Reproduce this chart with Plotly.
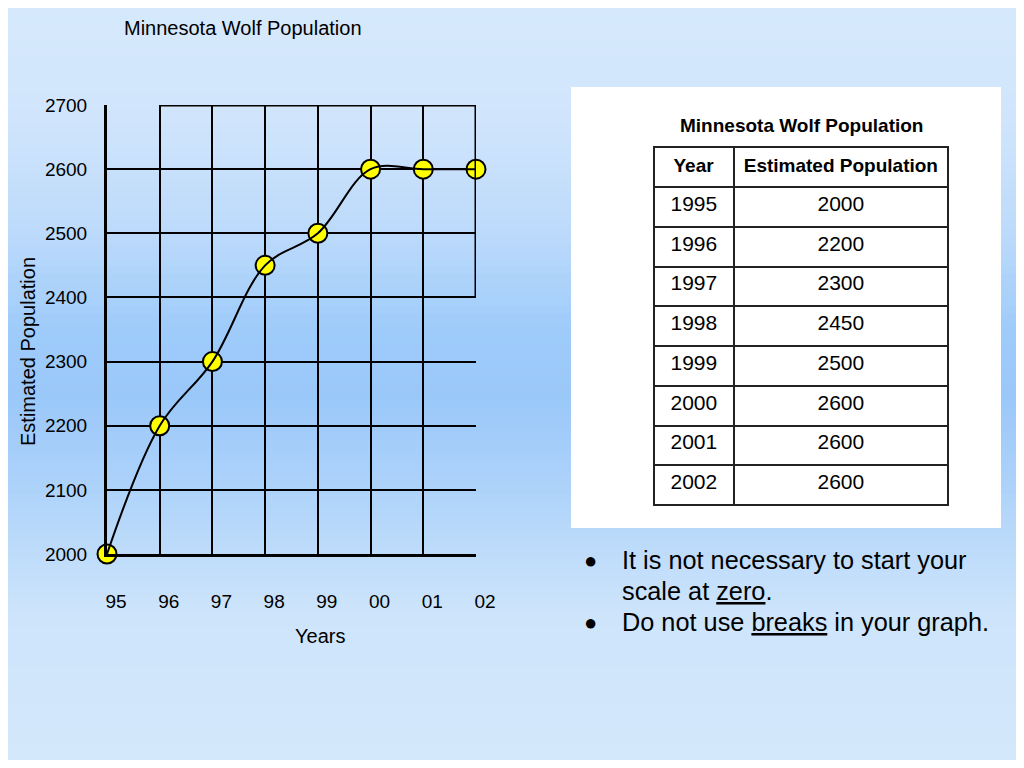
import plotly.graph_objects as go

# ---- data ----
years = [1995, 1996, 1997, 1998, 1999, 2000, 2001, 2002]
year_labels = ["95", "96", "97", "98", "99", "00", "01", "02"]
population = [2000, 2200, 2300, 2450, 2500, 2600, 2600, 2600]
y_ticks = [2000, 2100, 2200, 2300, 2400, 2500, 2600, 2700]
table_header = ["Year", "Estimated\u00a0Population"]

# figure sized so that, with the page's 8px body margin, it fills the 1024x768 window
OFF = 8
W, H = 1008, 752
FONT = "Liberation Sans, Arial, sans-serif"


def px_x(p):
    return (p - OFF) / W


def px_y(p):
    return 1 - (p - OFF) / H


fig = go.Figure()

# markers below the curve
fig.add_trace(go.Scatter(
    x=years, y=population, mode="markers",
    marker=dict(size=19, color="#ffff00", line=dict(color="black", width=2)),
    cliponaxis=False, showlegend=False, hoverinfo="skip"))
fig.add_trace(go.Scatter(
    x=years, y=population, mode="lines",
    line=dict(color="black", width=2, shape="spline", smoothing=1),
    cliponaxis=False, showlegend=False))

# data table
fig.add_trace(go.Table(
    domain=dict(x=[px_x(654), px_x(949)], y=[px_y(507), px_y(147)]),
    columnwidth=[80, 215],
    header=dict(values=["<b>%s</b>" % h for h in table_header],
                height=40, align="center",
                fill_color="white", line=dict(color="#222", width=2),
                font=dict(family=FONT, size=19, color="black")),
    cells=dict(values=[years, population], height=39.75, align="center",
               fill_color="white", line=dict(color="#222", width=2),
               font=dict(family=FONT, size=21, color="black"))))

# background gradient bands
stops = [(0.0, (214, 233, 252)), (0.15, (208, 229, 252)), (0.30, (188, 218, 251)),
         (0.43, (158, 203, 250)), (0.52, (154, 200, 249)), (0.65, (176, 212, 250)),
         (0.80, (205, 228, 251)), (1.0, (212, 232, 251))]


def col_at(t):
    for (t0, c0), (t1, c1) in zip(stops[:-1], stops[1:]):
        if t0 <= t <= t1:
            f = (t - t0) / (t1 - t0)
            return tuple(round(a + (b - a) * f) for a, b in zip(c0, c1))
    return stops[-1][1]


shapes = []
n = 96
for i in range(n):
    t = (i + 0.5) / n
    c = col_at(t)
    shapes.append(dict(type="rect", xref="paper", yref="paper",
                       x0=0, x1=1, y0=1 - (i + 1) / n - 0.002, y1=1 - i / n,
                       fillcolor="rgb(%d,%d,%d)" % c, line=dict(width=0), layer="below"))
# white card behind the table
shapes.append(dict(type="rect", xref="paper", yref="paper",
                   x0=px_x(571), x1=px_x(1001), y0=px_y(528), y1=px_y(87),
                   fillcolor="white", line=dict(width=0), layer="below"))
# heavier frame segments
shapes.append(dict(type="line", xref="x", yref="y", x0=years[1], x1=years[-1],
                   y0=y_ticks[-1], y1=y_ticks[-1], line=dict(color="black", width=3)))
shapes.append(dict(type="line", xref="x", yref="y", x0=years[-1], x1=years[-1],
                   y0=y_ticks[4], y1=y_ticks[-1], line=dict(color="black", width=3)))


def ann(text, x, y, size, **kw):
    d = dict(text=text, x=px_x(x), y=px_y(y), xref="paper", yref="paper",
             xanchor="center", yanchor="middle", showarrow=False,
             font=dict(family=FONT, size=size, color="black"))
    d.update(kw)
    return d


annotations = [
    ann("Minnesota Wolf Population", 243, 28, 20),
    ann("<b>Minnesota Wolf Population</b>", 801, 125, 19),
    ann("Estimated Population", 28, 352, 20, textangle=-90),
    ann("Years", 320, 636, 20),
]
bullet_lines = [
    ("●", "It is not necessary to start your", 560),
    ("", "scale at <u>zero</u>.", 591),
    ("●", "Do not use <u>breaks</u> in your graph.", 622),
]
for b, txt, yy in bullet_lines:
    if b:
        annotations.append(ann(b, 590, yy, 22))
    annotations.append(ann(txt, 620, yy, 25.3, xanchor="left"))

fig.update_layout(
    width=W, height=H, autosize=False,
    margin=dict(l=0, r=0, t=0, b=0, autoexpand=False),
    paper_bgcolor="rgb(212,232,251)", plot_bgcolor="rgba(0,0,0,0)",
    showlegend=False,
    shapes=shapes, annotations=annotations,
    xaxis=dict(domain=[px_x(107), px_x(476)], range=[years[0], years[-1]],
               tickvals=years, ticktext=year_labels, showgrid=True,
               gridcolor="black", gridwidth=1.5, zeroline=False,
               showline=True, linecolor="black", linewidth=3, ticks="",
               ticklabelshift=9, ticklabelstandoff=28,
               tickfont=dict(family=FONT, size=19, color="black")),
    yaxis=dict(domain=[px_y(554), px_y(105)], range=[y_ticks[0], y_ticks[-1]],
               tickvals=y_ticks, showgrid=True, gridcolor="black", gridwidth=1.5,
               zeroline=False, showline=True, linecolor="black", linewidth=3, ticks="",
               ticklabelstandoff=13,
               tickfont=dict(family=FONT, size=19, color="black")),
)

fig.write_html("out.html")
